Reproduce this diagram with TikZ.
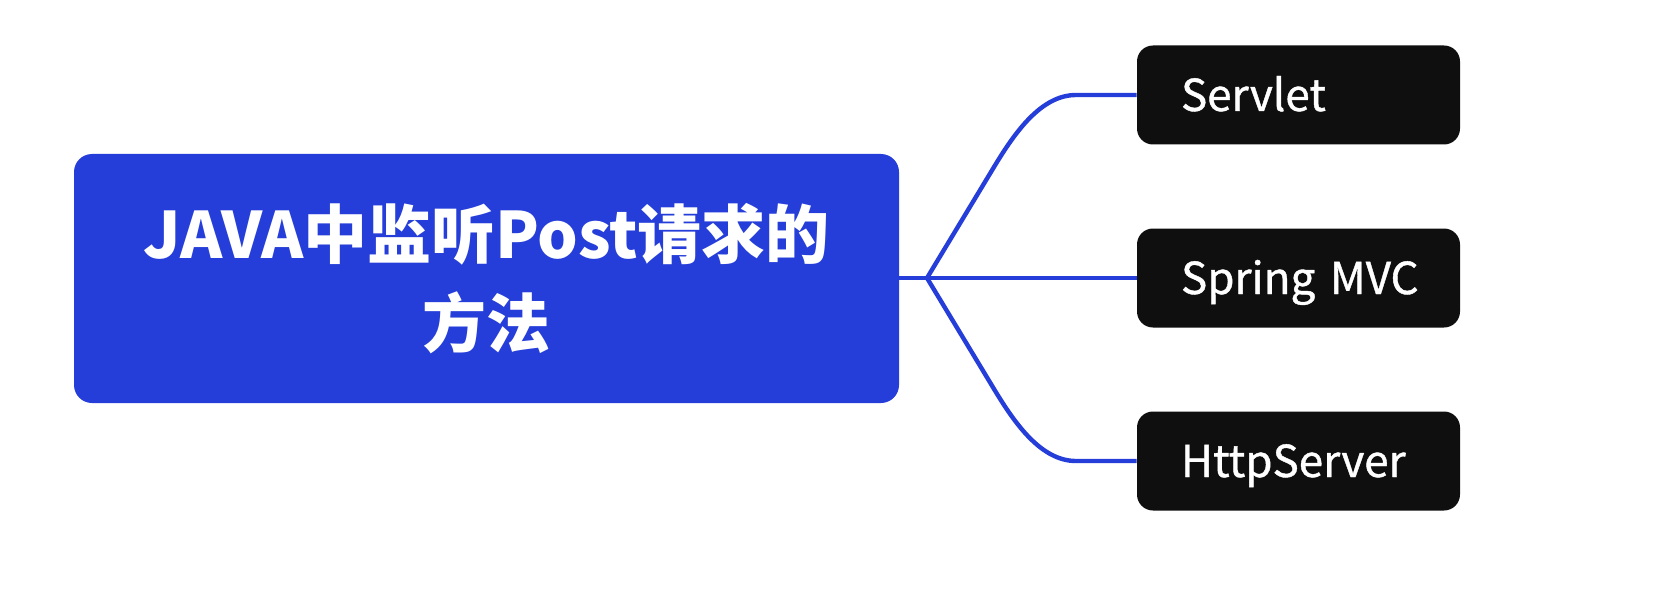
\documentclass[tikz,border=0pt]{standalone}
\usepackage{fontspec}
\setmainfont{Noto Sans CJK SC}
\newfontfamily\leaffont[FakeBold=0.9]{Noto Sans CJK SC}
\usetikzlibrary{calc}
\definecolor{mapblue}{RGB}{37,62,217}
\definecolor{mapblack}{RGB}{15,15,15}
\tikzset{
    rootbox/.style={fill=mapblue, rounded corners=9pt, text=white,
        font=\bfseries\fontsize{32}{44.5}\selectfont, align=center,
        minimum width=412.5pt, minimum height=124.5pt, inner sep=0pt},
    leafbox/.style={fill=mapblack, rounded corners=8pt, text=white,
        font=\leaffont\fontsize{22}{26}\selectfont, align=left,
        text width=117.5pt, inner xsep=22pt, inner ysep=0pt,
        text height=16pt, text depth=0pt, minimum height=49.5pt},
    branch/.style={draw=mapblue, line width=2.2pt}
}

\begin{document}
\begin{tikzpicture}[x=0.5pt, y=-0.5pt]
\useasboundingbox (0, 0) rectangle (1655, 615);

% root topic
\node[rootbox] (root) at (486.5, 278.5) {JAVA中监听Post请求的\\方法};

% sub topics
\node[leafbox] (servlet) at (1298.5, 95) {Servlet};
\node[leafbox] (spring) at (1298.5, 278) {Spring~MVC};
\node[leafbox] (httpserver) at (1298.5, 461) {HttpServer};

% branches
\coordinate (fork) at (927, 278);
\draw[branch] (root.east |- fork) -- (fork);
\draw[branch] (fork) -- (994, 167) .. controls (1014.7, 132.7) and (1041, 95) .. (1076, 95) -- (servlet.west);
\draw[branch] (fork) -- (spring.west);
\draw[branch] (fork) -- (994, 389) .. controls (1014.7, 423.3) and (1041, 461) .. (1076, 461) -- (httpserver.west);
\end{tikzpicture}
\end{document}
